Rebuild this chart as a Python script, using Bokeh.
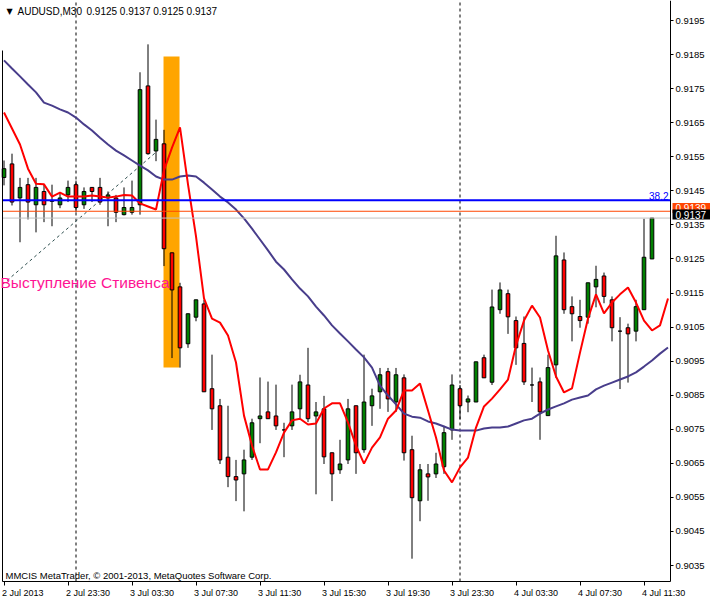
from bokeh.plotting import figure
from bokeh.models import Range1d, FixedTicker, NumeralTickFormatter, Label, ColumnDataSource, LinearAxis
from bokeh.embed import file_html
from bokeh.resources import INLINE

# ---------------- data ----------------
symbol = "AUDUSD,M30"
time_labels = ["2 Jul 2013", "2 Jul 23:30", "3 Jul 03:30", "3 Jul 07:30", "3 Jul 11:30",
               "3 Jul 15:30", "3 Jul 19:30", "3 Jul 23:30", "4 Jul 03:30", "4 Jul 07:30", "4 Jul 11:30"]
time_label_bars = [0, 8, 16, 24, 32, 40, 48, 56, 64, 72, 80]
day_separator_bars = [9, 57]
price_ticks = [0.9035, 0.9045, 0.9055, 0.9065, 0.9075, 0.9085, 0.9095, 0.9105, 0.9115,
               0.9125, 0.9135, 0.9145, 0.9155, 0.9165, 0.9175, 0.9185, 0.9195]

open_ = [0.91489, 0.91529, 0.91429, 0.91468, 0.91409, 0.91448, 0.91419, 0.91409, 0.91438, 0.91468,
         0.91409, 0.91460, 0.91460, 0.91429, 0.91429, 0.91380, 0.91387, 0.91409, 0.91758, 0.91567,
         0.91588, 0.91268, 0.91168, 0.91001, 0.91079, 0.91118, 0.90869, 0.90819, 0.90668, 0.90611,
         0.90619, 0.90668, 0.90781, 0.90801, 0.90789, 0.90748, 0.90760, 0.90810, 0.90880, 0.90789,
         0.90810, 0.90681, 0.90631, 0.90660, 0.90819, 0.90690, 0.90819, 0.90860, 0.90919, 0.90830,
         0.90901, 0.90690, 0.90540, 0.90619, 0.90619, 0.90640, 0.90748, 0.90869, 0.90830, 0.90830,
         0.90960, 0.90888, 0.91101, 0.91148, 0.91069, 0.91002, 0.90880, 0.90889, 0.90790, 0.90939,
         0.91247, 0.91110, 0.91081, 0.91079, 0.91168, 0.91200, 0.91130, 0.91038, 0.91048, 0.91038,
         0.91101, 0.91250]
high = [0.91539, 0.91559, 0.91488, 0.91488, 0.91488, 0.91468, 0.91468, 0.91444, 0.91480, 0.91480,
        0.91460, 0.91460, 0.91488, 0.91448, 0.91438, 0.91460, 0.91480, 0.91798, 0.91880, 0.91659,
        0.91629, 0.91268, 0.91180, 0.91090, 0.91130, 0.91130, 0.90969, 0.90839, 0.90819, 0.90660,
        0.90690, 0.90781, 0.90902, 0.90890, 0.90881, 0.90769, 0.90881, 0.90910, 0.90989, 0.90830,
        0.90848, 0.90681, 0.90719, 0.90839, 0.90819, 0.90969, 0.90869, 0.90930, 0.90930, 0.90930,
        0.90911, 0.90731, 0.90648, 0.90648, 0.90681, 0.90760, 0.90911, 0.90880, 0.90849, 0.90948,
        0.90969, 0.91160, 0.91181, 0.91160, 0.91081, 0.91081, 0.90931, 0.90902, 0.90969, 0.91318,
        0.91269, 0.91140, 0.91130, 0.91180, 0.91230, 0.91210, 0.91140, 0.91079, 0.91060, 0.91130,
        0.91368, 0.91370]
low = [0.91466, 0.91407, 0.91299, 0.91366, 0.91328, 0.91358, 0.91346, 0.91399, 0.91417, 0.91387,
       0.91397, 0.91417, 0.91409, 0.91346, 0.91358, 0.91378, 0.91380, 0.91380, 0.91556, 0.91537,
       0.91229, 0.90959, 0.90931, 0.90989, 0.91067, 0.90860, 0.90748, 0.90648, 0.90580, 0.90539,
       0.90509, 0.90660, 0.90709, 0.90781, 0.90748, 0.90668, 0.90748, 0.90781, 0.90771, 0.90559,
       0.90648, 0.90539, 0.90619, 0.90648, 0.90619, 0.90681, 0.90760, 0.90810, 0.90801, 0.90801,
       0.90658, 0.90370, 0.90480, 0.90540, 0.90607, 0.90619, 0.90719, 0.90779, 0.90800, 0.90830,
       0.90901, 0.90880, 0.91089, 0.91030, 0.90939, 0.90880, 0.90830, 0.90719, 0.90790, 0.90901,
       0.91089, 0.91008, 0.91048, 0.91060, 0.91108, 0.91120, 0.91008, 0.90868, 0.90887, 0.91008,
       0.91101, 0.91250]
close = [0.91515, 0.91417, 0.91460, 0.91417, 0.91460, 0.91409, 0.91421, 0.91429, 0.91460, 0.91401,
         0.91448, 0.91448, 0.91417, 0.91438, 0.91387, 0.91401, 0.91401, 0.91747, 0.91559, 0.91601,
         0.91280, 0.91159, 0.90989, 0.91089, 0.91130, 0.90860, 0.90810, 0.90660, 0.90611, 0.90601,
         0.90660, 0.90769, 0.90789, 0.90781, 0.90760, 0.90748, 0.90801, 0.90889, 0.90781, 0.90801,
         0.90669, 0.90619, 0.90648, 0.90810, 0.90681, 0.90830, 0.90848, 0.90910, 0.90839, 0.90910,
         0.90681, 0.90549, 0.90631, 0.90610, 0.90648, 0.90740, 0.90880, 0.90819, 0.90839, 0.90948,
         0.90901, 0.91109, 0.91159, 0.91080, 0.90989, 0.90889, 0.90880, 0.90801, 0.90931, 0.91259,
         0.91101, 0.91089, 0.91069, 0.91180, 0.91190, 0.91140, 0.91048, 0.91038, 0.91030, 0.91110,
         0.91255, 0.91370]

# moving averages (drawn shifted 2 bars to the right, so 84 points)
ma_fast = [0.91680, 0.91633, 0.91586, 0.91515, 0.91471, 0.91469, 0.91433, 0.91445, 0.91433, 0.91433,
           0.91433, 0.91436, 0.91433, 0.91430, 0.91433, 0.91438, 0.91436, 0.91413, 0.91404, 0.91395,
           0.91510, 0.91577, 0.91636, 0.91469, 0.91316, 0.91134, 0.91075, 0.91063, 0.91025, 0.90946,
           0.90790, 0.90702, 0.90632, 0.90632, 0.90682, 0.90740, 0.90776, 0.90781, 0.90764, 0.90767,
           0.90811, 0.90826, 0.90826, 0.90770, 0.90702, 0.90649, 0.90696, 0.90726, 0.90781, 0.90805,
           0.90864, 0.90864, 0.90884, 0.90805, 0.90726, 0.90629, 0.90594, 0.90638, 0.90667, 0.90755,
           0.90817, 0.90840, 0.90867, 0.90896, 0.90996, 0.91069, 0.91113, 0.91078, 0.90981, 0.90905,
           0.90858, 0.90870, 0.90975, 0.91075, 0.91146, 0.91090, 0.91122, 0.91146, 0.91166, 0.91122,
           0.91069, 0.91040, 0.91055, 0.91134]
ma_slow = [0.91833, 0.91809, 0.91786, 0.91762, 0.91739, 0.91709, 0.91700, 0.91689, 0.91680, 0.91665,
           0.91645, 0.91627, 0.91606, 0.91586, 0.91568, 0.91554, 0.91539, 0.91524, 0.91510, 0.91492,
           0.91483, 0.91483, 0.91492, 0.91495, 0.91492, 0.91474, 0.91454, 0.91433, 0.91416, 0.91395,
           0.91369, 0.91339, 0.91307, 0.91275, 0.91242, 0.91219, 0.91190, 0.91163, 0.91140, 0.91110,
           0.91084, 0.91055, 0.91031, 0.91008, 0.90984, 0.90961, 0.90931, 0.90878, 0.90849, 0.90823,
           0.90796, 0.90787, 0.90784, 0.90773, 0.90767, 0.90758, 0.90749, 0.90746, 0.90746, 0.90746,
           0.90752, 0.90755, 0.90755, 0.90758, 0.90767, 0.90776, 0.90781, 0.90796, 0.90808, 0.90817,
           0.90826, 0.90837, 0.90843, 0.90849, 0.90867, 0.90878, 0.90887, 0.90896, 0.90905, 0.90917,
           0.90934, 0.90952, 0.90972, 0.90990]

fibo_382 = 0.91422
fibo_level_text = "38.2"
ask_price = 0.9139
bid_price = 0.9137
trend_bars = [-0.19, 18.94]
trend_prices = [0.91175, 0.91562]
highlight_bars = [19.94, 21.94]
highlight_prices = [0.90931, 0.91844]
note_text = "Выступление Стивенса"
note_bar = -0.44
note_price = 0.91181
footer_text = "MMCIS MetaTrader, © 2001-2013, MetaQuotes Software Corp."

# ---------------- layout helpers (screen px of the 710x600 chart -> data) ----------------
def xd(px):
    return (px - 3.5) / 8.0

def yd(py):
    return 0.9195 - (py - 20) * 0.016 / 545.0

FONT = "Liberation Sans"
X_LEFT, X_RIGHT, Y_BOTTOM = xd(2), xd(670), yd(581)

p = figure(width=710, height=600, output_backend="svg", toolbar_location=None,
           x_range=Range1d(xd(0), xd(710)), y_range=Range1d(yd(600), yd(0)),
           y_axis_location="right", min_border=0)
p.background_fill_color = "white"
p.border_fill_color = "white"
p.outline_line_color = None
p.grid.visible = False

# y axis (right) placed at the chart's right edge
ya = p.yaxis[0]
ya.fixed_location = X_RIGHT
ya.bounds = (Y_BOTTOM, yd(0))
ya.ticker = FixedTicker(ticks=price_ticks)
ya.formatter = NumeralTickFormatter(format="0.0000")
ya.major_label_text_font = FONT
ya.major_label_text_font_size = "9.5px"
ya.major_label_text_color = "black"
ya.major_tick_out = 3
ya.major_tick_in = 0
ya.minor_tick_out = 0
ya.minor_tick_in = 0
ya.major_label_standoff = 2
ya.axis_line_color = "black"

# x axis: ticks only, labels drawn left-aligned like MT4
xa = p.xaxis[0]
xa.fixed_location = Y_BOTTOM
xa.bounds = (X_LEFT, X_RIGHT)
xa.ticker = FixedTicker(ticks=time_label_bars)
xa.major_label_overrides = {b: "" for b in time_label_bars}
xa.major_label_text_font_size = "0px"
xa.major_tick_out = 4
xa.major_tick_in = 0
xa.minor_tick_out = 0
xa.minor_tick_in = 0
xa.axis_line_color = "black"

# left border of the chart window
la = LinearAxis(fixed_location=X_LEFT, bounds=(Y_BOTTOM, yd(50)), ticker=FixedTicker(ticks=[]),
                major_label_text_font_size="0px", major_tick_out=0, major_tick_in=0,
                minor_tick_out=0, minor_tick_in=0, axis_line_color="black")
p.add_layout(la, "left")

# highlight rectangle (background)
p.quad(left=[highlight_bars[0]], right=[highlight_bars[1]],
       bottom=[highlight_prices[0]], top=[highlight_prices[1]],
       fill_color="#FFA500", line_color=None)

# day separators
p.segment(x0=day_separator_bars, x1=day_separator_bars,
          y0=[Y_BOTTOM] * len(day_separator_bars), y1=[yd(0)] * len(day_separator_bars),
          line_color="black", line_width=1, line_dash="3 3")

# fibo trend line
p.line(trend_bars, trend_prices, line_color="#2F4F4F", line_width=1, line_dash="3 3")

# candles
idx = list(range(len(open_)))
body_top = [max(o, c) for o, c in zip(open_, close)]
body_bot = [min(o, c) for o, c in zip(open_, close)]
colors = ["#008000" if c > o else ("#FF0000" if c < o else "black") for o, c in zip(open_, close)]
src = ColumnDataSource(dict(x=idx, o=open_, h=high, l=low, c=close,
                            top=body_top, bot=body_bot, col=colors))
p.segment(x0="x", y0="l", x1="x", y1="h", source=src, line_color="black", line_width=1)
p.vbar(x="x", width=0.45, top="top", bottom="bot", source=src,
       fill_color="col", line_color="black", line_width=1)

# moving averages
ma_x = list(range(len(ma_fast)))
p.line(ma_x, ma_slow, line_color="#483D8B", line_width=2)
p.line(ma_x, ma_fast, line_color="#FF0000", line_width=2)

# horizontal lines (fibo level, ask, bid)
p.segment(x0=[X_LEFT], x1=[X_RIGHT], y0=[fibo_382], y1=[fibo_382], line_color="#0000FF", line_width=2)
p.segment(x0=[X_LEFT], x1=[X_RIGHT], y0=[ask_price], y1=[ask_price], line_color="#FF4500", line_width=1)
p.segment(x0=[X_LEFT], x1=[X_RIGHT], y0=[bid_price], y1=[bid_price], line_color="#C0C0C0", line_width=1)

# texts
p.add_layout(Label(x=xd(668), y=yd(199), text=fibo_level_text, text_align="right",
                   text_baseline="bottom", text_font=FONT, text_font_size="10px",
                   text_color="#0000FF"))
p.add_layout(Label(x=note_bar, y=note_price, text=note_text, text_align="left",
                   text_baseline="middle", text_font=FONT, text_font_size="15.5px",
                   text_color="#FF1493"))
p.add_layout(Label(x=xd(6), y=yd(11), text="▼", text_align="left", text_baseline="middle",
                   text_font="DejaVu Sans", text_font_size="8px", text_color="black"))
p.add_layout(Label(x=xd(17), y=yd(11), text=symbol, text_align="left", text_baseline="middle",
                   text_font=FONT, text_font_size="10px", text_color="black"))
ohlc_text = " ".join(f"{v:.4f}" for v in (open_[-1], high[-1], low[-1], close[-1]))
p.add_layout(Label(x=xd(86), y=yd(11), text=ohlc_text, text_align="left", text_baseline="middle",
                   text_font=FONT, text_font_size="10px", text_color="black"))
p.add_layout(Label(x=xd(5), y=yd(575), text=footer_text, text_align="left", text_baseline="middle",
                   text_font=FONT, text_font_size="9.5px", text_color="black"))

# time labels (left aligned at tick)
for b, t in zip(time_label_bars, time_labels):
    p.add_layout(Label(x=b, y=yd(592), x_offset=-2, text=t, text_align="left",
                       text_baseline="middle", text_font=FONT, text_font_size="9px",
                       text_color="black"))

# price tags on the axis
p.add_layout(Label(x=xd(672), y=yd(207.5), text=f"{ask_price:.4f}", text_align="left",
                   text_baseline="middle", text_font=FONT, text_font_size="10px",
                   text_color="white", background_fill_color="#FF4500",
                   padding=dict(left=3, right=4, top=1, bottom=1)))
p.add_layout(Label(x=xd(672), y=yd(214), text=f"{bid_price:.4f}", text_align="left",
                   text_baseline="middle", text_font=FONT, text_font_size="10px",
                   text_color="white", background_fill_color="black",
                   padding=dict(left=3, right=4, top=1, bottom=1)))

open("out.html", "w").write(file_html(p, INLINE))
